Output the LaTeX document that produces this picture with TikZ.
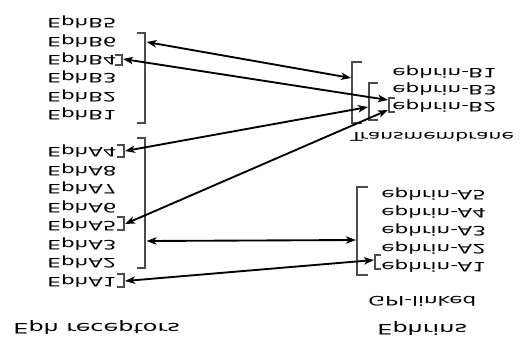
\documentclass[tikz,border=0pt]{standalone}
\usepackage{fontspec}
\setmainfont{DejaVu Sans}
\usetikzlibrary{arrows.meta}
\begin{document}
\begin{tikzpicture}[x=0.75pt,y=-0.75pt,
  lbl/.style={anchor=west, inner sep=0pt, xscale=1.66, yscale=-1, font=\fontsize{9.7}{11}\selectfont},
  head/.style={lbl, font=\fontsize{10.8}{13}\selectfont},
  brk/.style={draw=black!70, line width=0.9pt},
  link/.style={{Stealth[length=7.5pt,width=5.5pt,inset=2pt]}-{Stealth[length=7.5pt,width=5.5pt,inset=2pt]}, line width=1.4pt}]
\useasboundingbox (0,0) rectangle (520,343);
% left column
\node[lbl] (b5) at (47,22) {EphB5};
\node[lbl] (b6) at (47,41) {EphB6};
\node[lbl] (b4) at (47,59) {EphB4};
\node[lbl] (b3) at (47,77) {EphB3};
\node[lbl] (b2) at (47,96) {EphB2};
\node[lbl] (b1) at (47,114) {EphB1};
\node[lbl] (a4) at (47,151) {EphA4};
\node[lbl] (a8) at (47,170) {EphA8};
\node[lbl] (a7) at (47,188) {EphA7};
\node[lbl] (a6) at (47,207) {EphA6};
\node[lbl] (a5) at (47,225) {EphA5};
\node[lbl] (a3) at (47,244) {EphA3};
\node[lbl] (a2) at (47,262) {EphA2};
\node[lbl] (a1) at (47,281) {EphA1};
\node[head] (er) at (13,327) {Eph receptors};
% right column
\node[lbl] (eb1) at (392,72) {ephrin-B1};
\node[lbl] (eb3) at (392,89) {ephrin-B3};
\node[lbl] (eb2) at (392,106) {ephrin-B2};
\node[lbl, font=\fontsize{9.1}{11}\selectfont] (tm) at (350,137) {Transmembrane};
\node[lbl] (ea5) at (381,194) {ephrin-A5};
\node[lbl] (ea4) at (381,212) {ephrin-A4};
\node[lbl] (ea3) at (381,230) {ephrin-A3};
\node[lbl] (ea2) at (381,248) {ephrin-A2};
\node[lbl] (ea1) at (381,266) {ephrin-A1};
\node[lbl] (gpi) at (368,301) {GPI-linked};
\node[head] (ephr) at (377,328) {Ephrins};
% left brackets
\draw[brk] (137,33) -- (145,33) -- (145,123) -- (137,123);
\draw[brk] (137,138) -- (145,138) -- (145,268) -- (137,268);
\draw[brk] (115,55) -- (122,55) -- (122,65) -- (115,65);
\draw[brk] (117,145) -- (124,145) -- (124,157) -- (117,157);
\draw[brk] (117,217) -- (124,217) -- (124,230) -- (117,230);
\draw[brk] (117,274) -- (124,274) -- (124,287) -- (117,287);
\coordinate (lB) at (146.5,42);
\coordinate (lA) at (146.5,241);
\coordinate (lB4) at (123,59);
\coordinate (lA4) at (125,151);
\coordinate (lA5) at (125,224);
\coordinate (lA1) at (125,281);
% right brackets
\draw[brk] (362,62) -- (352,62) -- (352,123) -- (362,123);
\draw[brk] (378,83) -- (369,83) -- (369,120) -- (378,120);
\draw[brk] (395,98) -- (389,98) -- (389,112) -- (395,112);
\draw[brk] (368,187) -- (357,187) -- (357,275) -- (368,275);
\draw[brk] (381,255) -- (375,255) -- (375,269) -- (381,269);
\coordinate (rB) at (351,78);
\coordinate (rBi) at (368,107);
\coordinate (rB2a) at (388,100);
\coordinate (rB2b) at (388,110);
\coordinate (rA) at (356,240);
\coordinate (rA1) at (374,260);
% connectors
\draw[link] (lB) -- (rB);
\draw[link] (lB4) -- (rB2a);
\draw[link] (lA4) -- (rBi);
\draw[link] (lA5) -- (rB2b);
\draw[link] (lA) -- (rA);
\draw[link] (lA1) -- (rA1);
\end{tikzpicture}
\end{document}
